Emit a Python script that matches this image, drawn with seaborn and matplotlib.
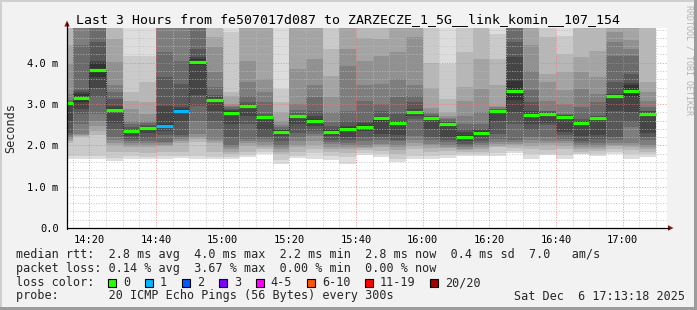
import matplotlib
matplotlib.use("Agg")
import matplotlib.pyplot as plt
import numpy as np
import pandas as pd
import seaborn as sns
from matplotlib.patches import Rectangle, Polygon
from matplotlib.lines import Line2D

# ---------------- data ----------------
title = "Last 3 Hours from fe507017d087 to ZARZECZE_1_5G__link_komin__107_154"

bar_times = ["14:10", "14:15", "14:20", "14:25", "14:30", "14:35", "14:40", "14:45",
             "14:50", "14:55", "15:00", "15:05", "15:10", "15:15", "15:20", "15:25",
             "15:30", "15:35", "15:40", "15:45", "15:50", "15:55", "16:00", "16:05",
             "16:10", "16:15", "16:20", "16:25", "16:30", "16:35", "16:40", "16:45",
             "16:50", "16:55", "17:00", "17:05"]

median_rtt = [3.03, 3.15, 3.83, 2.86, 2.35, 2.42, 2.47, 2.83, 4.02, 3.10, 2.78, 2.95,
              2.69, 2.33, 2.70, 2.59, 2.32, 2.40, 2.45, 2.66, 2.55, 2.80, 2.67, 2.52,
              2.21, 2.31, 2.82, 3.32, 2.73, 2.77, 2.69, 2.55, 2.67, 3.19, 3.32, 2.77]

loss_count = [0, 0, 0, 0, 0, 0, 1, 1, 0, 0, 0, 0, 0, 0, 0, 0, 0, 0,
              0, 0, 0, 0, 0, 0, 0, 0, 0, 0, 0, 0, 0, 0, 0, 0, 0, 0]

# 20 sorted ping times (ms) per 5-minute step
smoke_pings = [
    [1.68, 1.75, 2.05, 2.10, 2.15, 2.20, 2.25, 2.30, 2.60, 3.00, 3.04, 3.05, 3.06, 3.10, 3.25, 3.97, 4.42, 5.0, 5.4, 6.0],
    [1.67, 1.75, 2.20, 2.23, 2.26, 2.28, 2.52, 2.76, 2.88, 3.04, 3.25, 3.30, 3.35, 4.42, 5.0, 5.2, 5.5, 5.8, 6.2, 7.0],
    [1.67, 1.75, 2.24, 2.35, 2.48, 2.60, 2.76, 3.16, 3.40, 3.65, 4.00, 4.05, 4.50, 5.0, 5.2, 5.5, 5.8, 6.2, 6.6, 7.2],
    [1.63, 1.70, 1.83, 2.00, 2.05, 2.14, 2.20, 2.40, 2.55, 2.82, 2.90, 2.95, 3.12, 3.29, 3.45, 4.01, 4.58, 5.0, 5.5, 6.0],
    [1.68, 1.75, 1.85, 1.96, 2.00, 2.05, 2.10, 2.16, 2.22, 2.32, 2.36, 2.40, 2.45, 2.52, 2.60, 2.88, 3.08, 3.29, 4.17, 5.0],
    [1.66, 1.72, 1.82, 1.95, 2.00, 2.05, 2.10, 2.18, 2.30, 2.38, 2.44, 2.47, 2.50, 2.55, 2.60, 2.76, 3.04, 3.53, 4.17, 5.0],
    [1.67, 1.75, 1.85, 1.98, 2.02, 2.05, 2.08, 2.25, 2.35, 2.42, 2.52, 2.96, 3.65, 4.25, 5.0, 5.3, 5.6, 6.0, 6.5, 7.0],
    [1.70, 1.75, 1.85, 2.05, 2.10, 2.16, 2.20, 2.24, 2.60, 2.78, 2.88, 2.92, 3.49, 4.05, 5.0, 5.3, 5.6, 6.0, 6.5, 7.0],
    [1.66, 1.75, 2.07, 2.15, 2.20, 2.28, 2.60, 2.96, 3.21, 3.95, 4.08, 4.15, 4.33, 5.0, 5.3, 5.6, 6.0, 6.5, 7.0, 7.5],
    [1.68, 1.72, 1.85, 2.05, 2.10, 2.15, 2.40, 2.60, 2.84, 3.05, 3.13, 3.16, 3.21, 3.41, 3.77, 4.38, 4.62, 5.0, 5.4, 6.0],
    [1.66, 1.72, 1.80, 1.85, 1.90, 1.95, 2.00, 2.20, 2.52, 2.74, 2.84, 2.86, 2.88, 2.92, 2.95, 3.00, 3.20, 3.29, 4.74, 5.0],
    [1.72, 1.76, 1.83, 1.98, 2.05, 2.10, 2.15, 2.52, 2.72, 2.91, 2.99, 3.00, 3.06, 3.20, 3.53, 4.05, 5.0, 5.4, 5.8, 6.2],
    [1.80, 1.84, 1.92, 1.95, 2.00, 2.08, 2.15, 2.20, 2.38, 2.64, 2.70, 2.72, 2.76, 3.04, 3.29, 3.61, 5.0, 5.4, 5.8, 6.2],
    [1.56, 1.65, 1.78, 1.85, 1.90, 1.96, 2.00, 2.10, 2.22, 2.30, 2.36, 2.37, 2.40, 2.45, 2.50, 2.60, 2.80, 3.04, 3.37, 5.0],
    [1.70, 1.75, 1.85, 1.95, 2.00, 2.10, 2.20, 2.30, 2.52, 2.66, 2.72, 2.74, 2.78, 2.85, 3.00, 3.85, 5.0, 5.4, 5.8, 6.2],
    [1.68, 1.82, 1.92, 2.00, 2.10, 2.22, 2.28, 2.35, 2.48, 2.56, 2.64, 2.72, 2.84, 3.16, 3.45, 4.09, 5.0, 5.4, 5.8, 6.2],
    [1.64, 1.75, 1.85, 1.92, 1.97, 2.03, 2.08, 2.14, 2.22, 2.29, 2.37, 2.40, 2.46, 2.56, 2.80, 3.16, 3.69, 4.33, 5.0, 5.5],
    [1.56, 1.72, 1.82, 1.90, 1.95, 2.00, 2.05, 2.12, 2.20, 2.38, 2.45, 2.48, 2.60, 2.84, 3.93, 4.33, 5.0, 5.4, 5.8, 6.2],
    [1.76, 1.82, 1.88, 1.93, 1.97, 2.00, 2.10, 2.20, 2.35, 2.42, 2.50, 2.55, 2.60, 3.08, 3.45, 4.05, 4.61, 5.0, 5.4, 6.0],
    [1.72, 1.78, 1.86, 1.95, 2.00, 2.04, 2.14, 2.20, 2.28, 2.60, 2.68, 2.72, 2.84, 3.00, 3.49, 4.17, 4.58, 5.0, 5.4, 6.0],
    [1.60, 1.68, 1.80, 1.88, 1.95, 2.00, 2.10, 2.14, 2.25, 2.52, 2.58, 2.60, 2.76, 3.16, 3.60, 4.25, 5.0, 5.4, 5.8, 6.2],
    [1.68, 1.75, 1.90, 1.98, 2.05, 2.14, 2.22, 2.64, 2.70, 2.76, 2.84, 2.88, 3.04, 3.20, 3.45, 4.62, 5.0, 5.4, 5.8, 6.2],
    [1.68, 1.75, 1.85, 1.94, 2.00, 2.04, 2.12, 2.20, 2.40, 2.63, 2.69, 2.70, 2.72, 2.76, 2.80, 2.90, 3.40, 4.00, 5.0, 5.5],
    [1.70, 1.76, 1.86, 1.94, 1.97, 2.00, 2.07, 2.12, 2.20, 2.50, 2.55, 2.57, 2.60, 2.63, 2.66, 2.70, 2.80, 3.12, 3.97, 5.0],
    [1.74, 1.78, 1.84, 1.88, 1.92, 1.95, 1.99, 2.04, 2.10, 2.17, 2.26, 2.32, 2.40, 2.52, 2.72, 3.08, 3.41, 4.25, 5.0, 5.5],
    [1.74, 1.78, 1.84, 1.90, 1.96, 2.00, 2.05, 2.10, 2.20, 2.28, 2.34, 2.36, 2.40, 2.52, 2.80, 3.37, 4.09, 5.0, 5.4, 6.0],
    [1.74, 1.82, 1.95, 1.98, 2.03, 2.08, 2.15, 2.28, 2.60, 2.78, 2.84, 2.85, 2.87, 2.89, 2.92, 2.96, 3.45, 4.09, 4.70, 5.0],
    [1.82, 1.86, 1.93, 2.00, 2.03, 2.08, 2.13, 2.52, 2.80, 3.10, 3.55, 4.13, 4.50, 5.0, 5.3, 5.6, 6.0, 6.5, 7.0, 7.5],
    [1.68, 1.78, 1.90, 1.98, 2.05, 2.14, 2.20, 2.38, 2.52, 2.69, 2.77, 2.82, 3.04, 3.33, 3.81, 4.42, 5.0, 5.4, 5.8, 6.2],
    [1.76, 1.80, 1.88, 2.00, 2.05, 2.10, 2.20, 2.50, 2.55, 2.74, 2.80, 2.81, 2.82, 2.84, 3.08, 3.53, 3.73, 4.62, 5.0, 5.5],
    [1.68, 1.76, 1.90, 1.98, 2.05, 2.10, 2.15, 2.25, 2.32, 2.64, 2.72, 2.73, 2.74, 2.76, 3.00, 3.33, 3.77, 4.20, 4.65, 5.0],
    [1.78, 1.80, 1.85, 1.92, 1.96, 2.00, 2.05, 2.10, 2.22, 2.50, 2.58, 2.60, 2.64, 2.92, 3.37, 3.77, 4.13, 5.0, 5.4, 6.0],
    [1.74, 1.78, 1.86, 1.92, 1.96, 2.00, 2.05, 2.15, 2.25, 2.62, 2.69, 2.70, 2.72, 3.04, 3.25, 3.65, 4.29, 5.0, 5.4, 6.0],
    [1.78, 1.84, 1.92, 1.98, 2.02, 2.06, 2.14, 2.20, 2.84, 3.16, 3.24, 3.25, 3.53, 4.17, 4.50, 4.74, 5.0, 5.4, 5.8, 6.2],
    [1.68, 1.80, 1.88, 1.95, 2.00, 2.05, 2.44, 2.56, 2.80, 3.18, 3.45, 3.50, 3.73, 4.17, 4.33, 4.54, 5.0, 5.4, 5.8, 6.2],
    [1.72, 1.78, 1.84, 1.90, 1.96, 2.00, 2.14, 2.20, 2.30, 2.73, 2.81, 2.82, 2.84, 2.92, 3.08, 3.29, 3.53, 5.0, 5.4, 6.0],
]

x_tick_labels = ["14:20", "14:40", "15:00", "15:20", "15:40", "16:00", "16:20", "16:40", "17:00"]
y_tick_values = [0.0, 1.0, 2.0, 3.0, 4.0]
y_tick_labels = ["0.0", "1.0 m", "2.0 m", "3.0 m", "4.0 m"]
view_start, view_end = "14:13:18", "17:13:18"
y_max = 4.84

loss_labels = ["0", "1", "2", "3", "4-5", "6-10", "11-19", "20/20"]
loss_colors = ["#26ff00", "#00b8ff", "#0059ff", "#7e00ff", "#ff00ff", "#ff5500", "#ff0000", "#a00000"]

row_rtt = "median rtt:  2.8 ms avg  4.0 ms max  2.2 ms min  2.8 ms now  0.4 ms sd  7.0   am/s"
row_loss = "packet loss: 0.14 % avg  3.67 % max  0.00 % min  0.00 % now"
row_color = "loss color:"
row_probe = "probe:       20 ICMP Echo Pings (56 Bytes) every 300s"
stamp = "Sat Dec  6 17:13:18 2025"
credit = "RRDTOOL / TOBI OETIKER"
y_label = "Seconds"

# ---------------- helpers ----------------
def to_min(s):
    parts = [int(v) for v in s.split(":")]
    m = (parts[0] - 14) * 60 + parts[1]
    if len(parts) > 2:
        m += parts[2] / 60.0
    return m

def loss_index(n):
    if n <= 3:
        return n
    if n <= 5:
        return 4
    if n <= 10:
        return 5
    if n <= 19:
        return 6
    return 7

W, H = 697, 310
BACK = "#f2f2f2"
MONO = ["DejaVu Sans Mono"]

sns.set_theme(style="white")
plt.rcParams["font.family"] = MONO

fig = plt.figure(figsize=(W / 100, H / 100), dpi=100, facecolor=BACK)

def fx(x):
    return x / W

def fy(y):
    return 1 - y / H

L, R, T, B = 67, 667, 28, 228
ax = fig.add_axes([fx(L), fy(B), (R - L) / W, (B - T) / H])
ax.set_facecolor("white")
for s in ax.spines.values():
    s.set_visible(False)

t_start = np.array([to_min(t) for t in bar_times], dtype=float)
step = t_start[1] - t_start[0]
t_end = t_start + step

# smoke: stacked grey bands between consecutive sorted pings
xs, bots, hts, cols = [], [], [], []
for i, p in enumerate(smoke_pings):
    for j in range(len(p) - 1):
        k = j + 1
        pair = min(k, 20 - k)
        g = (221 - 19 * (pair - 1)) / 255.0
        xs.append(t_start[i])
        bots.append(p[j])
        hts.append(p[j + 1] - p[j])
        cols.append((g, g, g))
ax.bar(xs, hts, bottom=bots, width=step, align="edge", color=cols,
       linewidth=0, antialiased=False, zorder=1)

ax.set_xlim(to_min(view_start), to_min(view_end))
ax.set_ylim(0, y_max)

# grid (dotted), drawn over smoke like rrdtool
dash = (0, (1, 1.6))
for v in np.arange(0.2, y_max, 0.2):
    major = abs(v - round(v)) < 1e-6
    ax.axhline(v, color="#ff7070" if major else "#bdbdbd", lw=0.72, ls=dash,
               alpha=0.75 if major else 0.8, zorder=2)
xmajor = [to_min(t) for t in x_tick_labels]
for m in np.arange(15, to_min(view_end), 5):
    major = any(abs(m - q) < 1e-6 for q in xmajor)
    ax.axvline(m, color="#ff7070" if major else "#bdbdbd", lw=0.72, ls=dash,
               alpha=0.75 if major else 0.8, zorder=2)

# median step line + loss-coloured median marks
df = pd.DataFrame({"t": list(t_start) + [t_end[-1]],
                   "rtt": list(median_rtt) + [median_rtt[-1]]})
sns.lineplot(data=df, x="t", y="rtt", ax=ax, drawstyle="steps-post",
             color="#202020", lw=0.8, linestyle=(0, (1, 1)), zorder=4, legend=False)
ax.hlines(median_rtt, t_start, t_end,
          colors=[loss_colors[loss_index(n)] for n in loss_count],
          linewidth=2.3, zorder=5)
ax.set_xlabel("")
ax.set_ylabel("")

# ticks
ax.set_yticks(y_tick_values)
ax.set_yticklabels(y_tick_labels)
ax.set_yticks(np.arange(0, y_max, 0.2), minor=True)
ax.set_xticks(xmajor)
ax.set_xticklabels(x_tick_labels)
ax.set_xticks(np.arange(15, to_min(view_end), 5), minor=True)
ax.tick_params(axis="both", which="major", direction="out", length=2.5, width=0.7,
               color="black", labelsize=7.5, labelcolor="black")
ax.tick_params(axis="both", which="minor", direction="out", length=1.5, width=0.7, color="black")
ax.tick_params(axis="y", which="major", pad=3.5)
ax.tick_params(axis="x", which="major", pad=2.5)
for lab in ax.get_xticklabels() + ax.get_yticklabels():
    lab.set_family(MONO)

# axis lines and arrows
fig.add_artist(Line2D([fx(L), fx(L)], [fy(B + 0.5), fy(23)], color="black", lw=0.9))
fig.add_artist(Line2D([fx(L - 0.5), fx(669)], [fy(B), fy(B)], color="black", lw=0.9))
fig.add_artist(Polygon([(fx(64.3), fy(26.5)), (fx(69.7), fy(26.5)), (fx(67), fy(20.5))],
                       closed=True, transform=fig.transFigure, color="#8b1a1a", lw=0))
fig.add_artist(Polygon([(fx(668), fy(225.2)), (fx(668), fy(230.8)), (fx(673.5), fy(228))],
                       closed=True, transform=fig.transFigure, color="#8b1a1a", lw=0))

# frame shading
fig.add_artist(Rectangle((0, fy(2)), 1, 2 / H, transform=fig.transFigure, color="#cfcfcf", lw=0))
fig.add_artist(Rectangle((0, 0), 2 / W, 1, transform=fig.transFigure, color="#cfcfcf", lw=0))
fig.add_artist(Rectangle((0, 0), 1, 3 / H, transform=fig.transFigure, color="#9c9c9c", lw=0))
fig.add_artist(Rectangle((fx(694), 0), 3 / W, 1, transform=fig.transFigure, color="#9c9c9c", lw=0))

# texts
fig.text(fx(347.5), fy(19.5), title, ha="center", va="center", fontsize=9.5, family=MONO, color="black")
fig.text(fx(11), fy(128), y_label, ha="center", va="center", rotation=90, fontsize=8.5, family=MONO)
fig.text(fx(688.5), fy(60), credit, ha="center", va="center", rotation=270, fontsize=6,
         family=MONO, color="#b4b4b4")

LX = 16
fig.text(fx(LX), fy(254.5), row_rtt, ha="left", va="center", fontsize=8.5, family=MONO)
fig.text(fx(LX), fy(268.5), row_loss, ha="left", va="center", fontsize=8.5, family=MONO)
fig.text(fx(LX), fy(282.5), row_color, ha="left", va="center", fontsize=8.5, family=MONO)
fig.text(fx(LX), fy(296), row_probe, ha="left", va="center", fontsize=8.5, family=MONO)
fig.text(fx(513.5), fy(296), stamp, ha="left", va="center", fontsize=8.5, family=MONO)

cw = 7.1
bx = 108.0
yc = 282.5
for lab, col in zip(loss_labels, loss_colors):
    fig.add_artist(Rectangle((fx(bx), fy(yc + 4)), 8 / W, 8 / H, transform=fig.transFigure,
                             facecolor=col, edgecolor="black", lw=0.8))
    fig.text(fx(bx + 15), fy(yc), lab, ha="left", va="center", fontsize=8.5, family=MONO)
    bx += (len(lab) + 4.2) * cw

fig.savefig("out.png", dpi=100, facecolor=BACK)
